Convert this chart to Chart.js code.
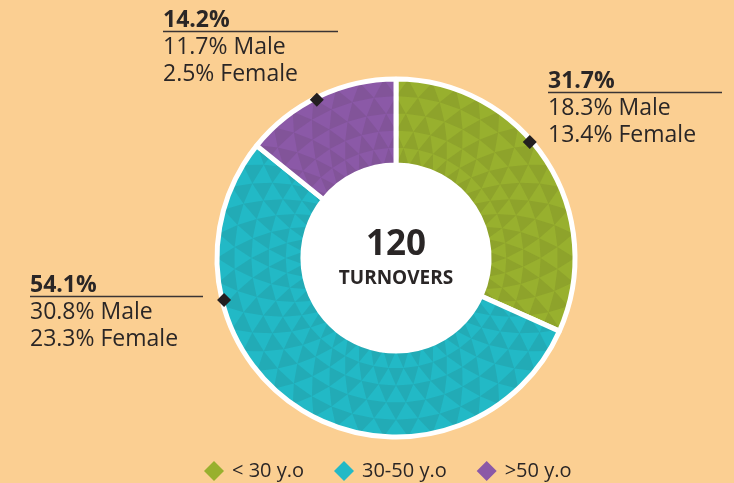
<!DOCTYPE html>
<html>
<head>
<meta charset="utf-8">
<script src="https://cdn.jsdelivr.net/npm/chart.js@4/dist/chart.umd.min.js"></script>
<style>
  html, body { margin: 0; padding: 0; background: #fbcf92; }
  #wrap { width: 734px; height: 483px; position: relative; }
</style>
</head>
<body>
<div id="wrap"><canvas id="turnoverChart" width="734" height="483"></canvas></div>
<script>
// Turnover split by age group
const categories = ['< 30 y.o', '30-50 y.o', '>50 y.o'];
const shares = [31.7, 54.1, 14.2];
const malePct = [18.3, 30.8, 11.7];
const femalePct = [13.4, 23.3, 2.5];
const totalTurnovers = 120;
const colors = ['#98b02e', '#22b9c6', '#8b59a7'];

// where each callout sits (text box + where on the arc the marker goes)
const callouts = [
    { x: 548, base: 88, lineLen: 174, along: 0.43 },
    { x: 30, base: 292, lineLen: 173, along: 0.73 },
    { x: 163, base: 27, lineLen: 175, along: 0.48 }
];

const FONT = '"Open Sans", "Noto Sans", sans-serif';
const textColor = '#2a2626';

function drawDiamond(ctx, x, y, half, fill) {
    ctx.beginPath();
    ctx.moveTo(x, y - half);
    ctx.lineTo(x + half, y);
    ctx.lineTo(x, y + half);
    ctx.lineTo(x - half, y);
    ctx.closePath();
    ctx.fillStyle = fill;
    ctx.fill();
}

// darker triangles laid out in rings, to imitate the printed texture
function drawTexture(ctx, arc) {
    const pad = 2.5;
    const r0 = arc.innerRadius + pad, r1 = arc.outerRadius - pad;
    const dA = pad / r0;
    ctx.save();
    ctx.beginPath();
    ctx.arc(arc.x, arc.y, r1, arc.startAngle + pad / r1, arc.endAngle - pad / r1);
    ctx.arc(arc.x, arc.y, r0, arc.endAngle - dA, arc.startAngle + dA, true);
    ctx.closePath();
    ctx.clip();
    ctx.fillStyle = 'rgba(40, 30, 20, 0.09)';
    const rings = 5, cells = 46;
    const step = Math.PI * 2 / cells;
    for (let k = 0; k < rings; k++) {
        const ra = arc.innerRadius + (arc.outerRadius - arc.innerRadius) * k / rings;
        const rb = arc.innerRadius + (arc.outerRadius - arc.innerRadius) * (k + 1) / rings;
        const off = (k % 2) * step / 2;
        for (let j = 0; j < cells; j++) {
            const t0 = j * step + off - Math.PI / 2;
            const t1 = t0 + step;
            const tm = (t0 + t1) / 2;
            ctx.beginPath();
            ctx.moveTo(arc.x + Math.cos(t0) * ra, arc.y + Math.sin(t0) * ra);
            ctx.lineTo(arc.x + Math.cos(t1) * ra, arc.y + Math.sin(t1) * ra);
            ctx.lineTo(arc.x + Math.cos(tm) * rb, arc.y + Math.sin(tm) * rb);
            ctx.closePath();
            ctx.fill();
        }
    }
    ctx.restore();
}

const decorPlugin = {
    id: 'decor',
    afterDatasetsDraw(chart) {
        const ctx = chart.ctx;
        const arcs = chart.getDatasetMeta(0).data;
        if (!arcs.length) return;
        const cx = arcs[0].x, cy = arcs[0].y;
        const inner = arcs[0].innerRadius;

        arcs.forEach(arc => drawTexture(ctx, arc));

        ctx.save();
        // white hole
        ctx.beginPath();
        ctx.arc(cx, cy, inner + 1, 0, Math.PI * 2);
        ctx.fillStyle = '#ffffff';
        ctx.fill();

        // center text
        ctx.fillStyle = textColor;
        ctx.textAlign = 'center';
        ctx.textBaseline = 'alphabetic';
        ctx.font = 'bold 35px ' + FONT;
        ctx.fillText(String(totalTurnovers), cx, cy - 3);
        ctx.font = 'bold 19px ' + FONT;
        ctx.fillText('TURNOVERS', cx, cy + 26);

        // callouts
        arcs.forEach((arc, i) => {
            const c = callouts[i];
            const a = arc.startAngle + (arc.endAngle - arc.startAngle) * c.along;
            const r = arc.outerRadius - 2;
            drawDiamond(ctx, cx + Math.cos(a) * r, cy + Math.sin(a) * r, 7, '#231f20');

            ctx.textAlign = 'left';
            ctx.fillStyle = textColor;
            ctx.font = 'bold 23px ' + FONT;
            ctx.fillText(shares[i].toFixed(1) + '%', c.x, c.base);
            ctx.strokeStyle = '#3a3434';
            ctx.lineWidth = 1.3;
            ctx.beginPath();
            ctx.moveTo(c.x, c.base + 4.5);
            ctx.lineTo(c.x + c.lineLen, c.base + 4.5);
            ctx.stroke();
            ctx.font = '23px ' + FONT;
            ctx.fillText(malePct[i].toFixed(1) + '% Male', c.x, c.base + 27);
            ctx.fillText(femalePct[i].toFixed(1) + '% Female', c.x, c.base + 54);
        });

        // legend
        ctx.font = '20px ' + FONT;
        ctx.textBaseline = 'middle';
        const ly = 471;
        let lx = 204;
        categories.forEach((label, i) => {
            drawDiamond(ctx, lx + 10, ly, 10, colors[i]);
            ctx.fillStyle = textColor;
            ctx.fillText(label, lx + 28, ly);
            lx += 28 + ctx.measureText(label).width + 30;
        });
        ctx.restore();
    }
};

new Chart(document.getElementById('turnoverChart'), {
    type: 'doughnut',
    data: {
        labels: categories,
        datasets: [{
            data: shares,
            backgroundColor: colors,
            borderColor: '#ffffff',
            borderWidth: 5,
            hoverOffset: 0
        }]
    },
    options: {
        responsive: false,
        animation: false,
        radius: 179,
        cutout: '52%',
        layout: { padding: { left: 58, right: 0, top: 33, bottom: 0 } },
        plugins: {
            legend: { display: false },
            tooltip: { enabled: false }
        }
    },
    plugins: [decorPlugin]
});
</script>
</body>
</html>
